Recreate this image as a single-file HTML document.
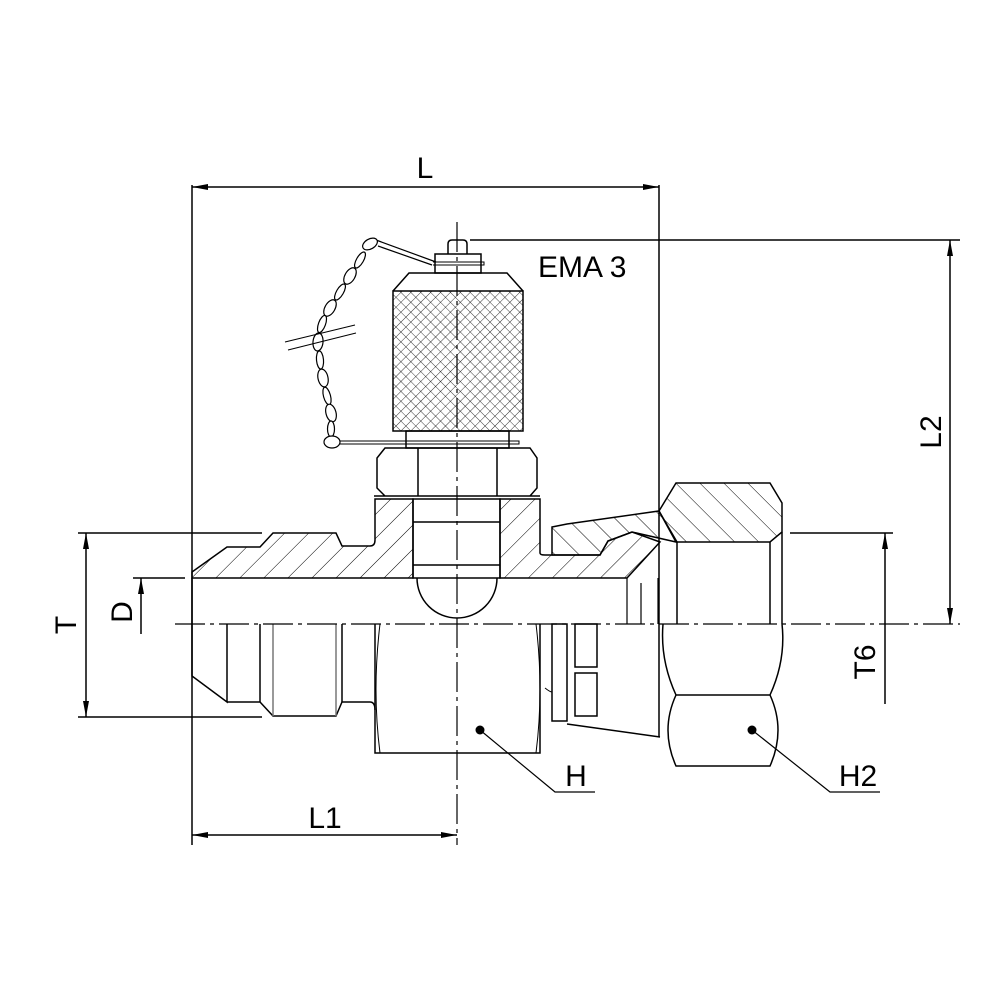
<!DOCTYPE html>
<html><head><style>html,body{margin:0;padding:0;background:#fff}svg{display:block}</style></head><body>
<svg width="1000" height="1000" viewBox="0 0 1000 1000" xmlns="http://www.w3.org/2000/svg" font-family="Liberation Sans, sans-serif">
<defs>
<pattern id="h1" patternUnits="userSpaceOnUse" width="17" height="17" patternTransform="rotate(45)"><line x1="0" y1="0" x2="0" y2="17" stroke="#000" stroke-width="1"/></pattern>
<pattern id="h2" patternUnits="userSpaceOnUse" width="17" height="17" patternTransform="rotate(-45)"><line x1="0" y1="0" x2="0" y2="17" stroke="#000" stroke-width="1"/></pattern>
<pattern id="kn" patternUnits="userSpaceOnUse" width="7" height="7" patternTransform="rotate(45)"><path d="M0 0V7M0 0H7" stroke="#000" stroke-width="0.8"/></pattern>
<marker id="a" viewBox="0 0 16 8" refX="16" refY="4" markerWidth="16" markerHeight="8" orient="auto-start-reverse" markerUnits="userSpaceOnUse"><path d="M0 1L16 4L0 7z" fill="#000"/></marker>
</defs>
<g fill="none" stroke="#000" stroke-width="1.5">
<path d="M192 572L227 547H260L273 533H336L342 546H370Q375 546 375 540V499H413V578H192Z" fill="url(#h1)"/>
<path d="M500 499H540V553Q540 555 545 555H600L608 541L632 532L660 542L627 578H500Z" fill="url(#h1)"/>
<path d="M552 527L567 524L659 511L676 542L632 532L608 541L600 555H552Z" fill="url(#h2)"/>
<path d="M676 483H770L782 503V532L770 542H677L659 511Z" fill="url(#h2)"/>
<line x1="677" y1="542" x2="677" y2="624"/><line x1="770" y1="542" x2="770" y2="624"/>
<line x1="782" y1="532" x2="782" y2="624"/>
<path d="M192 578V676L227 702V624M227 702H260L273 716H336L342 702H370Q375 702 375 710"/>
<line x1="260" y1="624" x2="260" y2="702"/><line x1="273" y1="624" x2="273" y2="716" stroke="#777"/><line x1="336" y1="624" x2="336" y2="716" stroke="#777"/><line x1="342" y1="624" x2="342" y2="702"/>
<path d="M375 624V753H540V624"/><path d="M380 624Q372 690 380 753M536 624Q544 690 536 753" stroke-width="1"/>
<path d="M627 578V624M641 583V624M658 578V624" stroke-width="1.2"/>
<rect x="552" y="624" width="15" height="97"/><rect x="575" y="624" width="22" height="43"/><rect x="575" y="673" width="22" height="43"/>
<path d="M567 724L660 737"/>
<path d="M545 688Q550 692 552 692" stroke-width="1"/>
<path d="M663 624Q660 660 676 695H770Q786 660 782 624M676 695Q660 730 676 766H770Q786 730 770 695" />
<line x1="659" y1="185" x2="659" y2="737"/>
<path d="M417 578A40 40 0 0 0 497 578"/>
<rect x="413" y="499" width="87" height="79"/><line x1="413" y1="522" x2="500" y2="522"/><line x1="413" y1="565" x2="500" y2="565"/>
<path d="M374 496H540M385 448H530L537 458V488L530 496H385L377 488V458Z"/><line x1="418" y1="448" x2="418" y2="496"/><line x1="497" y1="448" x2="497" y2="496"/>
<rect x="406" y="431" width="103" height="17"/>
<path d="M337 441H519V444H337" stroke-width="1"/>
<rect x="393" y="291" width="130" height="140" fill="url(#kn)"/>
<path d="M393 291L409 273H507L523 291"/>
<rect x="435" y="254" width="46" height="19"/><path d="M433 262H484V265H433" stroke-width="1"/>
<path d="M448 254V244Q448 240 452 240H463Q467 240 467 244V254"/>
<!-- chain -->
<g stroke-width="1.2" fill="#fff">
<path d="M376 240L436 262M378 246L432 265" fill="none"/>
<ellipse cx="370" cy="244" rx="8" ry="5" transform="rotate(-30 370 244)"/>
<ellipse cx="360" cy="260" rx="9" ry="3.5" transform="rotate(-60 360 260)"/>
<ellipse cx="350" cy="276" rx="9" ry="5" transform="rotate(-60 350 276)"/>
<ellipse cx="340" cy="292" rx="9" ry="3.5" transform="rotate(-60 340 292)"/>
<ellipse cx="330" cy="308" rx="9" ry="5" transform="rotate(-60 330 308)"/>
<ellipse cx="322" cy="324" rx="9" ry="3.5" transform="rotate(-70 322 324)"/>
<ellipse cx="318" cy="342" rx="9" ry="5" transform="rotate(-85 318 342)"/>
<ellipse cx="320" cy="360" rx="9" ry="3.5" transform="rotate(85 320 360)"/>
<ellipse cx="323" cy="378" rx="9" ry="5" transform="rotate(78 323 378)"/>
<ellipse cx="327" cy="396" rx="9" ry="3.5" transform="rotate(75 327 396)"/>
<ellipse cx="331" cy="413" rx="9" ry="5" transform="rotate(75 331 413)"/>
<ellipse cx="331" cy="429" rx="8" ry="3.5" transform="rotate(90 331 429)"/>
<ellipse cx="332" cy="442" rx="8" ry="6"/>
</g>
<path d="M285 342L355 325M288 350L356 333" stroke-width="1"/>
<path d="M175 624H960" stroke-width="1.2" stroke-dasharray="30 5 4 5"/>
<path d="M457 222V845" stroke-width="1.2" stroke-dasharray="30 5 4 5"/>
<line x1="192" y1="185" x2="192" y2="845"/>
<line x1="192" y1="187" x2="659" y2="187" marker-start="url(#a)" marker-end="url(#a)"/>
<line x1="470" y1="240" x2="960" y2="240"/>
<line x1="950" y1="240" x2="950" y2="624" marker-start="url(#a)" marker-end="url(#a)"/>
<line x1="790" y1="533" x2="893" y2="533"/>
<line x1="885" y1="704" x2="885" y2="533" marker-end="url(#a)"/>
<line x1="78" y1="533" x2="262" y2="533"/><line x1="78" y1="717" x2="262" y2="717"/>
<line x1="86" y1="533" x2="86" y2="717" marker-start="url(#a)" marker-end="url(#a)"/>
<line x1="133" y1="578" x2="185" y2="578"/>
<line x1="141" y1="634" x2="141" y2="578" marker-end="url(#a)"/>
<line x1="192" y1="835" x2="457" y2="835" marker-start="url(#a)" marker-end="url(#a)"/>
<path d="M480 730L555 792H595M752 730L830 792H880" stroke-width="1.2"/>
</g>
<circle cx="480" cy="730" r="4.5"/><circle cx="752" cy="730" r="4.5"/>
<g font-size="30" fill="#000">
<text x="425" y="178" text-anchor="middle">L</text>
<text x="538" y="277">EMA 3</text>
<text x="325" y="828" text-anchor="middle">L1</text>
<text x="576" y="786" text-anchor="middle">H</text>
<text x="858" y="786" text-anchor="middle">H2</text>
<text transform="translate(941,432) rotate(-90)" text-anchor="middle">L2</text>
<text transform="translate(875,662) rotate(-90)" text-anchor="middle">T6</text>
<text transform="translate(76,625) rotate(-90)" text-anchor="middle">T</text>
<text transform="translate(132,612) rotate(-90)" text-anchor="middle">D</text>
</g>
</svg>
</body></html>
